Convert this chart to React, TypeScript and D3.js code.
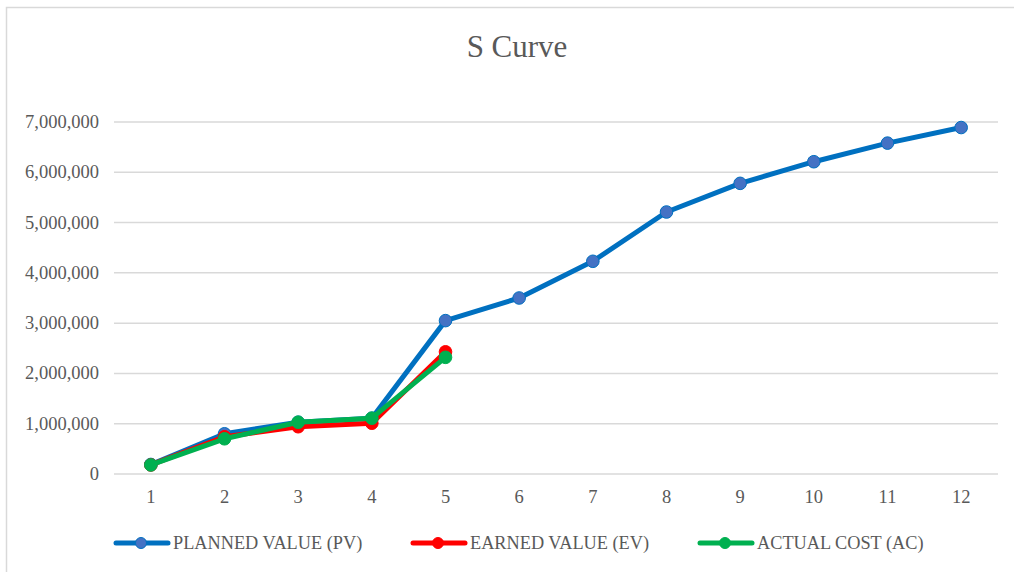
import { useEffect, useRef } from "react";
import * as d3 from "d3";

const months = [1, 2, 3, 4, 5, 6, 7, 8, 9, 10, 11, 12];
const plannedValue = [190000, 800000, 1030000, 1110000, 3050000, 3500000, 4230000, 5210000, 5780000, 6210000, 6580000, 6890000];
const earnedValue = [180000, 740000, 940000, 1010000, 2430000];
const actualCost = [180000, 700000, 1030000, 1110000, 2320000];
const yTicks = [0, 1000000, 2000000, 3000000, 4000000, 5000000, 6000000, 7000000];

const seriesList = [
  { name: "PLANNED VALUE (PV)", values: plannedValue, color: "#0070C0", fill: "#4472C4" },
  { name: "EARNED VALUE (EV)", values: earnedValue, color: "#FF0000", fill: "#FF0000" },
  { name: "ACTUAL COST (AC)", values: actualCost, color: "#00B050", fill: "#00B050" },
];

function App() {
  const ref = useRef<SVGSVGElement>(null);

  useEffect(() => {
    const w = 1014;
    const h = 572;
    const font = "Liberation Serif";
    const svg = d3.select(ref.current);
    svg.selectAll("*").remove();

    svg.append("rect").attr("width", w).attr("height", h).attr("fill", "#fff");

    // outer border (only top and left visible)
    svg.append("path")
      .attr("d", `M6.5,${h} V7.5 H${w}`)
      .attr("fill", "none")
      .attr("stroke", "#d9d9d9")
      .attr("stroke-width", 1.5);

    const left = 114, right = 998, top = 122, bottom = 474;

    const x = d3.scaleBand<number>().domain(months).range([left, right]);
    const y = d3.scaleLinear().domain([0, 7000000]).range([bottom, top]);
    const cx = (i: number) => (x(months[i]) as number) + x.bandwidth() / 2;

    svg.append("text")
      .attr("x", 517)
      .attr("y", 57)
      .attr("text-anchor", "middle")
      .style("font-family", font)
      .style("font-size", "31px")
      .attr("fill", "#595959")
      .text("S Curve");

    // gridlines
    svg.append("g")
      .selectAll("line")
      .data(yTicks)
      .join("line")
      .attr("x1", left)
      .attr("x2", right)
      .attr("y1", d => y(d))
      .attr("y2", d => y(d))
      .attr("stroke", "#d9d9d9")
      .attr("stroke-width", 1.5);

    const fmt = d3.format(",");
    svg.append("g")
      .selectAll("text")
      .data(yTicks)
      .join("text")
      .attr("x", 99)
      .attr("y", d => y(d) + 6)
      .attr("text-anchor", "end")
      .style("font-family", font)
      .style("font-size", "18.5px")
      .attr("fill", "#595959")
      .text(d => fmt(d));

    svg.append("g")
      .selectAll("text")
      .data(months)
      .join("text")
      .attr("x", (d, i) => cx(i))
      .attr("y", 503)
      .attr("text-anchor", "middle")
      .style("font-family", font)
      .style("font-size", "18.5px")
      .attr("fill", "#595959")
      .text(d => String(d));

    const line = d3.line<number>()
      .x((d, i) => cx(i))
      .y(d => y(d));

    seriesList.forEach(s => {
      const g = svg.append("g");
      g.append("path")
        .attr("d", line(s.values))
        .attr("fill", "none")
        .attr("stroke", s.color)
        .attr("stroke-width", 5)
        .attr("stroke-linejoin", "round");
      g.selectAll("circle")
        .data(s.values)
        .join("circle")
        .attr("cx", (d, i) => cx(i))
        .attr("cy", d => y(d))
        .attr("r", 6.3)
        .attr("fill", s.fill)
        .attr("stroke", s.color)
        .attr("stroke-width", 1);
    });

    // legend
    const legendX = [114, 411, 698];
    seriesList.forEach((s, i) => {
      const g = svg.append("g").attr("transform", `translate(${legendX[i]},543)`);
      g.append("line")
        .attr("x1", 2).attr("x2", 54)
        .attr("stroke", s.color)
        .attr("stroke-width", 5)
        .attr("stroke-linecap", "round");
      g.append("circle")
        .attr("cx", 27)
        .attr("r", 5.5)
        .attr("fill", s.fill)
        .attr("stroke", s.color);
      g.append("text")
        .attr("x", 59)
        .attr("y", 6)
        .style("font-family", font)
        .style("font-size", "18.3px")
        .attr("fill", "#595959")
        .text(s.name);
    });
  }, []);

  return (
    <svg
      ref={ref}
      width={1014}
      height={572}
      style={{ position: "absolute", left: 0, top: 0 }}
    />
  );
}

export default App;
